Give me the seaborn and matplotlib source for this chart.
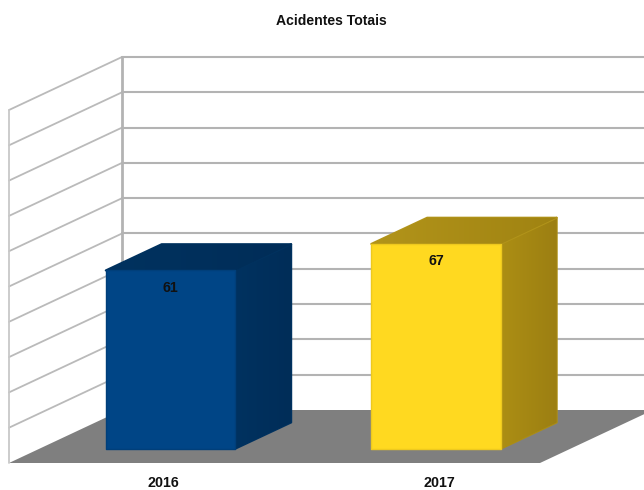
import matplotlib
matplotlib.use("Agg")
import matplotlib.pyplot as plt
from matplotlib.colors import LinearSegmentedColormap
from matplotlib.patches import Polygon
import numpy as np
import seaborn as sns

# Data
categories = ["2016", "2017"]
values = [61, 67]
title = "Acidentes Totais"
axis_ticks = [20, 28, 36, 44, 52, 60, 68, 76, 84, 92, 100]

# Style
front_colors = ["#004586", "#ffd920"]
edge_colors = ["#003f7a", "#eec91e"]
side_gradients = [("#003260", "#002d58"), ("#ac8e14", "#9c7f12")]
top_gradients = [("#00325f", "#002d58"), ("#b2941a", "#a08312")]
floor_color = "#7f7f7f"
grid_color = "#b3b3b3"
W, H = 644, 490

sns.set_style("white")
plt.rcParams["font.family"] = ["Liberation Sans", "DejaVu Sans"]

fig = plt.figure(figsize=(W / 100, H / 100), dpi=100)
ax = fig.add_axes([9 / W, (H - 463) / H, 531 / W, 353 / H])
ax.set_xlim(-0.5, 1.5)
ax.set_ylim(axis_ticks[0], axis_ticks[-1])

# oblique projection: depth 0 = front of floor, depth 1 = back wall
x_per_depth = 113 / (531 / 2)
y_per_depth = 53 / (353 / (axis_ticks[-1] - axis_ticks[0]))
bar_width = 129.5 / (531 / 2)
bar_shift = 0.0146
bar_base = 20.6
d_front, d_back = 0.22, 0.715


def project(x, v, d):
    return x + d * x_per_depth, v + d * y_per_depth


x0, x1 = ax.get_xlim()
y0, y1 = ax.get_ylim()
base = axis_ticks[0]


def shaded_face(points, colors, zorder):
    """Solid rounded face with a left-to-right shading clipped to it."""
    xs, ys = zip(*points)
    ax.fill(xs, ys, color=colors[0], lw=1.5, joinstyle="round", zorder=zorder, clip_on=False)
    cmap = LinearSegmentedColormap.from_list("face", colors)
    im = ax.imshow(np.linspace(0, 1, 64)[None, :], cmap=cmap, aspect="auto", origin="lower",
                   extent=(min(xs), max(xs), min(ys), max(ys)), zorder=zorder, interpolation="bilinear")
    im.set_clip_box(fig.bbox)
    im.set_clip_path(Polygon(points, transform=ax.transData))


# floor
corners = [project(x0, base, 0), project(x1, base, 0), project(x1, base, 1), project(x0, base, 1)]
ax.fill(*zip(*corners), color=floor_color, lw=0, zorder=1, clip_on=False)

# walls
for v in axis_ticks[1:]:
    ax.plot(*zip(project(x0, v, 0), project(x0, v, 1)), color="#bababa", lw=1.3, zorder=1, clip_on=False)
    ax.plot(*zip(project(x0, v, 1), project(x1, v, 1)), color=grid_color, lw=1.5, zorder=1, clip_on=False)
ax.plot(*zip(project(x0, base, 0), project(x0, axis_ticks[-1], 0)), color="#c8c8c8", lw=1.3, zorder=1, clip_on=False)
ax.plot(*zip(project(x0, base, 1), project(x0, axis_ticks[-1], 1)), color=grid_color, lw=2, zorder=1, clip_on=False)

# front faces
sns.barplot(x=categories, y=[v - bar_base for v in values], hue=categories, palette=front_colors,
            saturation=1, width=bar_width, bottom=bar_base, dodge=False, legend=False, ax=ax, zorder=4)

bars = [p for c in ax.containers for p in c]
for i, (patch, v) in enumerate(zip(bars, values)):
    left = i + bar_shift - bar_width / 2
    right = i + bar_shift + bar_width / 2
    dx, dy = project(0, 0, d_front)
    patch.set_x(left + dx)
    patch.set_y(bar_base + dy)
    patch.set_edgecolor(edge_colors[i])
    patch.set_linewidth(1.0)
    patch.set_joinstyle("round")
    patch.set_clip_on(False)
    side = [project(right, bar_base, d_front), project(right, bar_base, d_back),
            project(right, v, d_back), project(right, v, d_front)]
    top = [project(left, v, d_front), project(right, v, d_front),
           project(right, v, d_back), project(left, v, d_back)]
    shaded_face(side, side_gradients[i], 3)
    shaded_face(top, top_gradients[i], 3)
    ax.annotate(str(v), xy=project(i + bar_shift, v, d_front), xytext=(0, -12.4), textcoords="offset points",
                ha="center", va="center", fontsize=10.3, fontweight="bold", color="#111111", zorder=5)

ax.set_xlim(x0, x1)
ax.set_ylim(y0, y1)

# axis text
tick_px = [163.5, 439.5]
ax.set_xticks([(p - 9) / (531 / 2) - 0.5 for p in tick_px], labels=categories,
              fontsize=10.3, fontweight="bold", color="#111111")
ax.tick_params(axis="x", length=0, pad=9.6)
ax.set_yticks([])
ax.set_xlabel("")
ax.set_ylabel("")
sns.despine(ax=ax, left=True, bottom=True)
ax.patch.set_alpha(0)
fig.text(331.5 / W, 1 - 21 / H, title, ha="center", va="center", fontsize=10.1,
         fontweight="bold", color="#111111")

fig.savefig("out.png", dpi=100, facecolor="white")
